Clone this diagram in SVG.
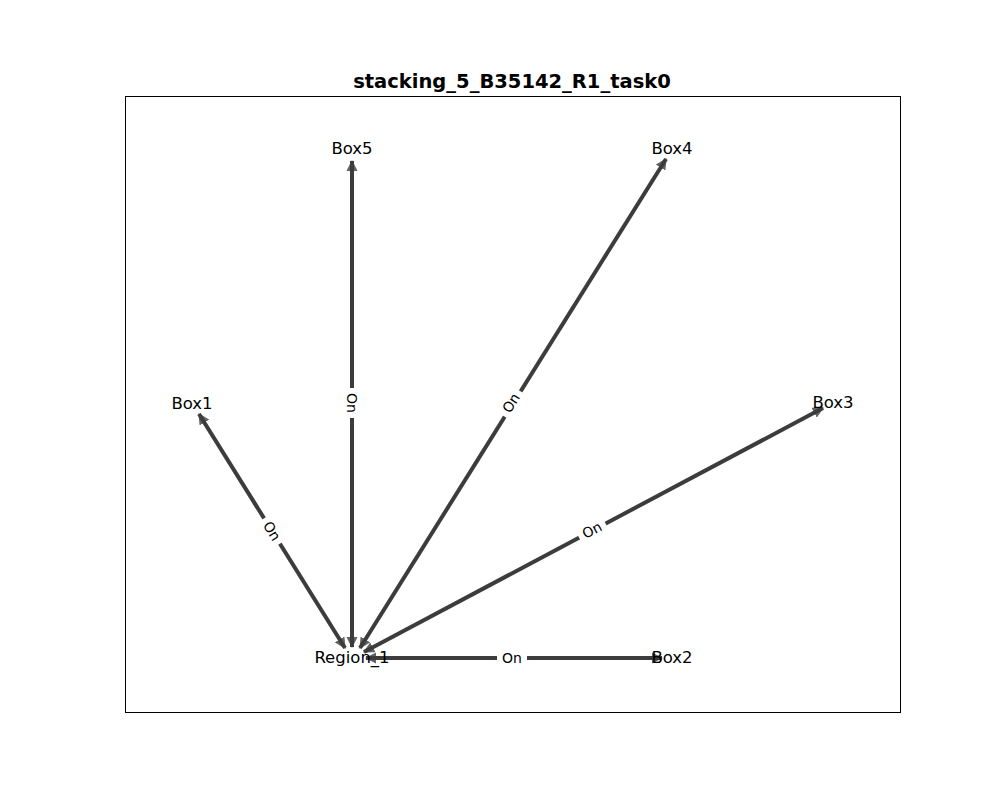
<svg xmlns="http://www.w3.org/2000/svg" width="1000" height="800" viewBox="0 0 1000 800">
<style>
.edge{stroke:#3c3c3c;stroke-width:4;fill:none;marker-start:url(#ah);marker-end:url(#ah);}
.node{font-family:"DejaVu Sans",sans-serif;font-size:16.5px;fill:#000;text-anchor:middle;dominant-baseline:central;}
.el{font-family:"DejaVu Sans",sans-serif;font-size:14px;fill:#000;text-anchor:middle;dominant-baseline:central;}
.bg{fill:#fff;}
</style>
<defs>
<marker id="ah" viewBox="0 0 10 10" refX="9" refY="5" markerWidth="2.8" markerHeight="2.8" orient="auto-start-reverse">
<path d="M0,0 L10,5 L0,10 z" fill="#3c3c3c" fill-opacity="0.8"/>
</marker>
</defs>
<rect width="1000" height="800" fill="#fff"/>
<rect x="125.5" y="96.5" width="775" height="616" fill="none" stroke="#000" stroke-width="1"/>
<text x="512" y="88" font-family="DejaVu Sans,sans-serif" font-size="19.5" font-weight="bold" text-anchor="middle">stacking_5_B35142_R1_task0</text>
<g id="connectors">
<line class="edge" x1="352" y1="647" x2="352" y2="161"/>
<line class="edge" x1="360" y1="648" x2="666" y2="159"/>
<line class="edge" x1="345" y1="648" x2="199" y2="414"/>
<line class="edge" x1="364" y1="652" x2="823" y2="408"/>
<line class="edge" x1="366" y1="658" x2="662" y2="658"/>
<g transform="translate(352,403) rotate(90)"><rect class="bg" x="-15" y="-10" width="30" height="20"/><text class="el" x="0" y="0">On</text></g>
<g transform="translate(511,403) rotate(-57.8)"><rect class="bg" x="-15" y="-10" width="30" height="20"/><text class="el" x="0" y="0">On</text></g>
<g transform="translate(272,531) rotate(57.8)"><rect class="bg" x="-15" y="-10" width="30" height="20"/><text class="el" x="0" y="0">On</text></g>
<g transform="translate(592,530) rotate(-27.9)"><rect class="bg" x="-15" y="-10" width="30" height="20"/><text class="el" x="0" y="0">On</text></g>
<g transform="translate(512,658)"><rect class="bg" x="-15" y="-10" width="30" height="20"/><text class="el" x="0" y="0">On</text></g>
</g>
<g id="Region_1"><text class="node" x="352" y="657">Region_1</text></g>
<g id="Box5"><text class="node" x="352" y="148">Box5</text></g>
<g id="Box4"><text class="node" x="672" y="148">Box4</text></g>
<g id="Box1"><text class="node" x="192" y="403">Box1</text></g>
<g id="Box3"><text class="node" x="833" y="402">Box3</text></g>
<g id="Box2"><text class="node" x="672" y="657">Box2</text></g>
</svg>
